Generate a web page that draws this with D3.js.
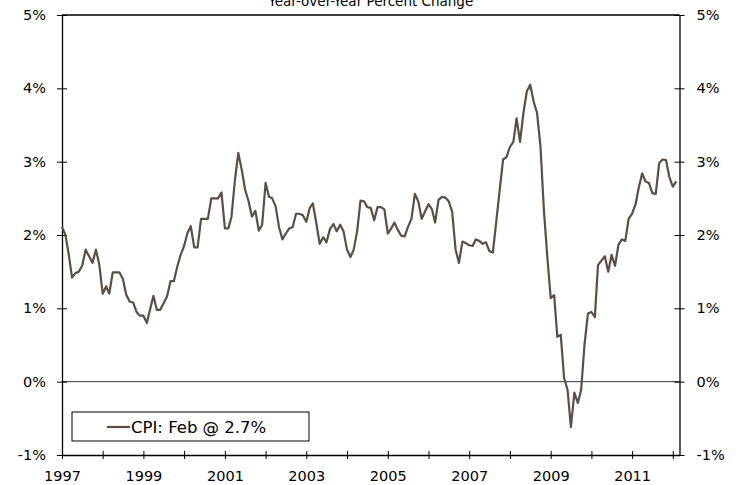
<!DOCTYPE html>
<html>
<head>
<meta charset="utf-8">
<script src="https://cdn.jsdelivr.net/npm/d3@7"></script>
<style>
  body { margin: 0; background: #fff; }
  svg { display: block; font-family: "DejaVu Sans", Verdana, sans-serif; }
</style>
</head>
<body>
<script>
// monthly CPI, year-over-year % change, Jan 1997 - Feb 2012
var cpiYoY = [
  2.11, 2.00, 1.75, 1.42, 1.48, 1.50, 1.58, 1.80, 1.71, 1.62, 1.80, 1.60, // 1997
  1.20, 1.30, 1.20, 1.49, 1.49, 1.49, 1.40, 1.18, 1.09, 1.08, 0.95, 0.90, // 1998
  0.90, 0.80, 0.98, 1.17, 0.98, 0.98, 1.07, 1.16, 1.37, 1.37, 1.57, 1.73, // 1999
  1.85, 2.03, 2.12, 1.83, 1.83, 2.22, 2.22, 2.22, 2.50, 2.50, 2.50, 2.58, // 2000
  2.09, 2.09, 2.25, 2.75, 3.12, 2.89, 2.62, 2.46, 2.25, 2.33, 2.06, 2.14, // 2001
  2.71, 2.52, 2.50, 2.39, 2.11, 1.94, 2.02, 2.09, 2.11, 2.29, 2.29, 2.27, // 2002
  2.18, 2.37, 2.43, 2.16, 1.88, 1.97, 1.90, 2.08, 2.15, 2.05, 2.14, 2.05, // 2003
  1.80, 1.70, 1.80, 2.05, 2.47, 2.46, 2.38, 2.37, 2.20, 2.38, 2.38, 2.35, // 2004
  2.02, 2.09, 2.17, 2.07, 1.99, 1.98, 2.11, 2.22, 2.56, 2.46, 2.22, 2.32, // 2005
  2.42, 2.35, 2.17, 2.48, 2.52, 2.51, 2.46, 2.32, 1.80, 1.62, 1.91, 1.89, // 2006
  1.86, 1.85, 1.94, 1.92, 1.88, 1.90, 1.78, 1.76, 2.19, 2.61, 3.03, 3.06, // 2007
  3.20, 3.27, 3.59, 3.27, 3.66, 3.96, 4.05, 3.82, 3.66, 3.21, 2.34, 1.71, // 2008
  1.14, 1.18, 0.61, 0.64, 0.05, -0.11, -0.62, -0.15, -0.29, -0.11, 0.52, 0.93, // 2009
  0.95, 0.88, 1.59, 1.65, 1.71, 1.50, 1.73, 1.58, 1.87, 1.94, 1.92, 2.22, // 2010
  2.29, 2.42, 2.64, 2.84, 2.73, 2.71, 2.57, 2.56, 2.98, 3.03, 3.02, 2.79, // 2011
  2.66, 2.73                                                              // 2012
];
var startYear = 1997;
var yTicks = [-1, 0, 1, 2, 3, 4, 5];
var yearLabels = [1997, 1999, 2001, 2003, 2005, 2007, 2009, 2011];
var titleText = "Year-over-Year Percent Change";
var legendText = "CPI: Feb @ 2.7%";

var width = 738, height = 485;
var margin = {top: 15, right: 58.5, bottom: 30, left: 62};
var lineColor = "#5b4f45";

var data = cpiYoY.map(function(v, i) {
    return {date: new Date(startYear, i, 1), value: v};
});

var svg = d3.select("body").append("svg")
    .attr("width", width)
    .attr("height", height);

var x = d3.scaleTime()
    .domain([new Date(startYear, 0, 1), new Date(2012, 2, 1)])
    .range([margin.left, width - margin.right]);

var y = d3.scaleLinear()
    .domain([-1, 5])
    .range([height - margin.bottom, margin.top]);

// title sits right at the top edge, as in the original
svg.append("text")
    .attr("x", (margin.left + width - margin.right) / 2)
    .attr("y", 5.5)
    .attr("text-anchor", "middle")
    .style("font-size", "13.5px")
    .text(titleText);

// top border and zero line
svg.append("line")
    .attr("x1", margin.left).attr("x2", width - margin.right)
    .attr("y1", y(5)).attr("y2", y(5))
    .attr("stroke", "#000").attr("stroke-width", 1.3);

svg.append("line")
    .attr("x1", margin.left).attr("x2", width - margin.right)
    .attr("y1", y(0)).attr("y2", y(0))
    .attr("stroke", "#333").attr("stroke-width", 1);

// axes
var xAxis = svg.append("g")
    .attr("transform", "translate(0," + y(-1) + ")")
    .call(d3.axisBottom(x)
        .ticks(d3.timeYear.every(1))
        .tickSize(4)
        .tickSizeOuter(0)
        .tickPadding(12)
        .tickFormat(function(d) {
            var yr = d.getFullYear();
            return yearLabels.indexOf(yr) >= 0 ? yr : "";
        }));

var yLeft = svg.append("g")
    .attr("transform", "translate(" + margin.left + ",0)")
    .call(d3.axisLeft(y)
        .tickValues(yTicks)
        .tickSize(5)
        .tickSizeOuter(0)
        .tickPadding(11)
        .tickFormat(function(d) { return d + "%"; }));

var yRight = svg.append("g")
    .attr("transform", "translate(" + (width - margin.right) + ",0)")
    .call(d3.axisRight(y)
        .tickValues(yTicks)
        .tickSize(5)
        .tickSizeOuter(0)
        .tickPadding(12)
        .tickFormat(function(d) { return d + "%"; }));

// ticks cross the axis line
xAxis.selectAll(".tick line").attr("y1", -4);
yLeft.selectAll(".tick line").attr("x1", 5);
yRight.selectAll(".tick line").attr("x1", -5);

[xAxis, yLeft, yRight].forEach(function(g) {
    g.select(".domain").attr("stroke", "#000").attr("stroke-width", 1.3);
    g.selectAll(".tick line").attr("stroke", "#000");
    g.selectAll("text")
        .attr("fill", "#000")
        .style("font-family", "DejaVu Sans, Verdana, sans-serif")
        .style("font-size", "14.5px");
});

// the CPI line
var line = d3.line()
    .x(function(d) { return x(d.date); })
    .y(function(d) { return y(d.value); });

svg.append("path")
    .datum(data)
    .attr("d", line)
    .attr("fill", "none")
    .attr("stroke", lineColor)
    .attr("stroke-width", 2.2)
    .attr("stroke-linejoin", "round");

// legend
var legend = svg.append("g").attr("transform", "translate(72,412)");
legend.append("rect")
    .attr("width", 237).attr("height", 29)
    .attr("fill", "#fff").attr("stroke", "#000").attr("stroke-width", 1);
legend.append("line")
    .attr("x1", 35).attr("x2", 58)
    .attr("y1", 15).attr("y2", 15)
    .attr("stroke", lineColor).attr("stroke-width", 2.2);
legend.append("text")
    .attr("x", 59).attr("y", 20.5)
    .style("font-size", "16.5px")
    .text(legendText);
</script>
</body>
</html>
